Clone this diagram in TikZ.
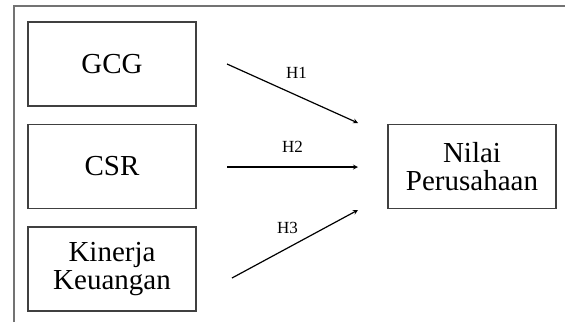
\documentclass[tikz,border=0pt]{standalone}
\usepackage{fontspec}
\setmainfont{Liberation Serif}
\usepackage{tikz}
\usetikzlibrary{positioning}

\begin{document}
\begin{tikzpicture}[x=1pt, y=-1pt, >=stealth, line width=1.2pt,
        node distance=102.5pt,
        box/.style={draw=black!75, minimum width=168pt, minimum height=84pt,
            align=center, font=\fontsize{29}{27.5}\selectfont},
        hlabel/.style={inner sep=0pt, font=\fontsize{17}{17}\selectfont}]
            \useasboundingbox (0,0) rectangle (565,322);
            \draw[draw=black!55, line width=1.5pt] (14,322) -- (14,6) -- (565,6);

            \node [box] at (112,64) (gcg) {GCG};
            \node [box, below of=gcg] (csr) {CSR};
            \node [box, below of=csr] (kinerja) {Kinerja\\Keuangan};
            \node [box, right of=csr, node distance=360pt] (nilai) {Nilai\\Perusahaan};

            \coordinate (h1a) at (227,64);  \coordinate (h1b) at (358,123);
            \coordinate (h2a) at (227,167); \coordinate (h2b) at (358,167);
            \coordinate (h3a) at (232,278); \coordinate (h3b) at (358,210);

            \draw[->] (h1a) -- node[hlabel, pos=0.53, above=16pt]{H1} (h1b);
            \draw[->] (h2a) -- node[hlabel, pos=0.5, above=14pt]{H2} (h2b);
            \draw[->] (h3a) -- node[hlabel, pos=0.44, above=14pt]{H3} (h3b);
        \end{tikzpicture}
\end{document}
